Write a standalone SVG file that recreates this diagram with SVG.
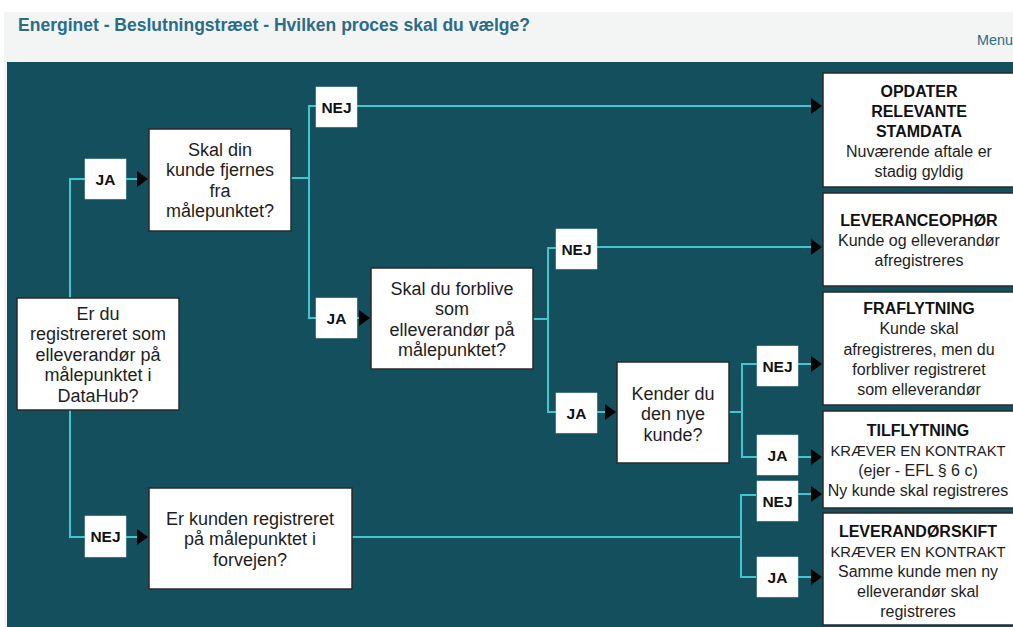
<svg xmlns="http://www.w3.org/2000/svg" width="1013" height="627" viewBox="0 0 1013 627">
<style>
.box{fill:#fff;stroke:#2a2a2a;stroke-width:1.5}
.lbl{fill:#fff;stroke:#e6e6e6;stroke-width:0.5}
.q{font-family:"Liberation Sans",Arial,sans-serif;font-size:18px;fill:#1e1e1e;text-anchor:middle}
.r{font-family:"Liberation Sans",Arial,sans-serif;font-size:16px;fill:#1e1e1e;text-anchor:middle}
.r15{font-family:"Liberation Sans",Arial,sans-serif;font-size:14.8px;fill:#1e1e1e;text-anchor:middle}
.rb{font-family:"Liberation Sans",Arial,sans-serif;font-size:16px;font-weight:bold;fill:#111;text-anchor:middle}
.lt{font-family:"Liberation Sans",Arial,sans-serif;font-size:15.5px;font-weight:bold;fill:#111;text-anchor:middle}
.ln{fill:none;stroke:#3fc6cf;stroke-width:2}
.ar{fill:none;stroke:#3fc6cf;stroke-width:2;marker-end:url(#ah)}
</style>
<defs>
<marker id="ah" markerWidth="11" markerHeight="16" refX="1" refY="8" orient="auto" markerUnits="userSpaceOnUse">
<path d="M0,0 L11,8 L0,16 Z" fill="#000"/>
</marker>
</defs>
<rect x="0" y="0" width="1013" height="627" fill="#ffffff"/>
<rect x="4" y="12" width="1009" height="615" fill="#f3f5f5"/>
<rect x="7" y="62" width="1006" height="565" fill="#134f5c"/>
<text x="18" y="31" font-family="Liberation Sans,Arial,sans-serif" font-size="18" font-weight="bold" fill="#2c6c88" textLength="512" lengthAdjust="spacingAndGlyphs">Energinet - Beslutningstræet - Hvilken proces skal du vælge?</text>
<text x="977" y="45" font-family="Liberation Sans,Arial,sans-serif" font-size="14" fill="#2c6c88" textLength="36" lengthAdjust="spacingAndGlyphs">Menu</text>

<g id="connectors">
<path class="ln" d="M85,179 H70 V537 H85"/>
<path class="ar" d="M126,179 H138"/>
<path class="ar" d="M126,537 H138"/>
<path class="ln" d="M291,178 H309"/>
<path class="ln" d="M316,106 H309 V318 H316"/>
<path class="ar" d="M357,106 H812"/>
<path class="ar" d="M357,318 H360"/>
<path class="ln" d="M533,319 H548"/>
<path class="ln" d="M556,248 H548 V412 H556"/>
<path class="ar" d="M597,247 H812"/>
<path class="ar" d="M597,412 H606"/>
<path class="ln" d="M729,412 H742"/>
<path class="ln" d="M757,364 H742 V457 H757"/>
<path class="ar" d="M798,364 H812"/>
<path class="ar" d="M798,457 H812"/>
<path class="ln" d="M352,537 H741"/>
<path class="ln" d="M756,495 H741 V577 H756"/>
<path class="ar" d="M798,494 H812"/>
<path class="ar" d="M798,577 H812"/>
</g>

<g id="root">
<rect class="box" x="17" y="298" width="162" height="112"/>
<text class="q"><tspan x="98" y="319.5">Er du</tspan><tspan x="98" y="340">registrereret som</tspan><tspan x="98" y="360.5">elleverandør på</tspan><tspan x="98" y="381">målepunktet i</tspan><tspan x="98" y="401.5">DataHub?</tspan></text>
</g>
<g id="q1">
<rect class="box" x="149" y="129" width="142" height="102"/>
<text class="q"><tspan x="220" y="155.5">Skal din</tspan><tspan x="220" y="176">kunde fjernes</tspan><tspan x="220" y="196.5">fra</tspan><tspan x="220" y="217">målepunktet?</tspan></text>
</g>
<g id="q2">
<rect class="box" x="371" y="268" width="162" height="101"/>
<text class="q"><tspan x="452" y="294.5">Skal du forblive</tspan><tspan x="452" y="315">som</tspan><tspan x="452" y="335.5">elleverandør på</tspan><tspan x="452" y="356">målepunktet?</tspan></text>
</g>
<g id="q3">
<rect class="box" x="617" y="362" width="112" height="101"/>
<text class="q"><tspan x="673" y="399.5">Kender du</tspan><tspan x="673" y="420">den nye</tspan><tspan x="673" y="440.5">kunde?</tspan></text>
</g>
<g id="q4">
<rect class="box" x="149" y="488" width="203" height="101"/>
<text class="q"><tspan x="250" y="524.5">Er kunden registreret</tspan><tspan x="250" y="545">på målepunktet i</tspan><tspan x="250" y="565.5">forvejen?</tspan></text>
</g>

<g id="r1">
<rect class="box" x="823" y="73" width="196" height="114"/>
<text class="rb"><tspan x="919" y="97">OPDATER</tspan><tspan x="919" y="117">RELEVANTE</tspan><tspan x="919" y="137">STAMDATA</tspan></text>
<text class="r"><tspan x="919" y="157">Nuværende aftale er</tspan><tspan x="919" y="177">stadig gyldig</tspan></text>
</g>
<g id="r2">
<rect class="box" x="823" y="193" width="196" height="93"/>
<text class="rb"><tspan x="919" y="226">LEVERANCEOPHØR</tspan></text>
<text class="r"><tspan x="919" y="246">Kunde og elleverandør</tspan><tspan x="919" y="266">afregistreres</tspan></text>
</g>
<g id="r3">
<rect class="box" x="823" y="292" width="196" height="113"/>
<text class="rb"><tspan x="919" y="314">FRAFLYTNING</tspan></text>
<text class="r"><tspan x="919" y="334">Kunde skal</tspan><tspan x="919" y="354.5">afregistreres, men du</tspan><tspan x="919" y="375">forbliver registreret</tspan><tspan x="919" y="395">som elleverandør</tspan></text>
</g>
<g id="r4">
<rect class="box" x="823" y="411" width="196" height="97"/>
<text class="rb"><tspan x="918" y="436">TILFLYTNING</tspan></text>
<text class="r15" x="918" y="456">KRÆVER EN KONTRAKT</text>
<text class="r" x="918" y="476">(ejer - EFL § 6 c)</text>
<text class="r" x="918" y="496">Ny kunde skal registreres</text>
</g>
<g id="r5">
<rect class="box" x="823" y="513" width="196" height="112"/>
<text class="rb"><tspan x="918" y="537">LEVERANDØRSKIFT</tspan></text>
<text class="r15" x="918" y="557">KRÆVER EN KONTRAKT</text>
<text class="r"><tspan x="918" y="577">Samme kunde men ny</tspan><tspan x="918" y="597">elleverandør skal</tspan><tspan x="918" y="617">registreres</tspan></text>
</g>

<g id="l-ja1"><rect class="lbl" x="85" y="159" width="41" height="40"/><text class="lt" x="105.5" y="184.5">JA</text></g>
<g id="l-nej5"><rect class="lbl" x="85" y="516" width="41" height="41"/><text class="lt" x="105.5" y="542">NEJ</text></g>
<g id="l-nej1"><rect class="lbl" x="316" y="87" width="41" height="40"/><text class="lt" x="336.5" y="112.5">NEJ</text></g>
<g id="l-ja2"><rect class="lbl" x="316" y="298" width="41" height="40"/><text class="lt" x="336.5" y="323.5">JA</text></g>
<g id="l-nej2"><rect class="lbl" x="556" y="229" width="41" height="40"/><text class="lt" x="576.5" y="254.5">NEJ</text></g>
<g id="l-ja3"><rect class="lbl" x="556" y="393" width="41" height="40"/><text class="lt" x="576.5" y="418.5">JA</text></g>
<g id="l-nej3"><rect class="lbl" x="757" y="346" width="41" height="40"/><text class="lt" x="777.5" y="371.5">NEJ</text></g>
<g id="l-ja4"><rect class="lbl" x="757" y="435" width="41" height="40"/><text class="lt" x="777.5" y="460.5">JA</text></g>
<g id="l-nej4"><rect class="lbl" x="757" y="481" width="41" height="40"/><text class="lt" x="777.5" y="506.5">NEJ</text></g>
<g id="l-ja5"><rect class="lbl" x="757" y="557" width="41" height="40"/><text class="lt" x="777.5" y="582.5">JA</text></g>
</svg>
